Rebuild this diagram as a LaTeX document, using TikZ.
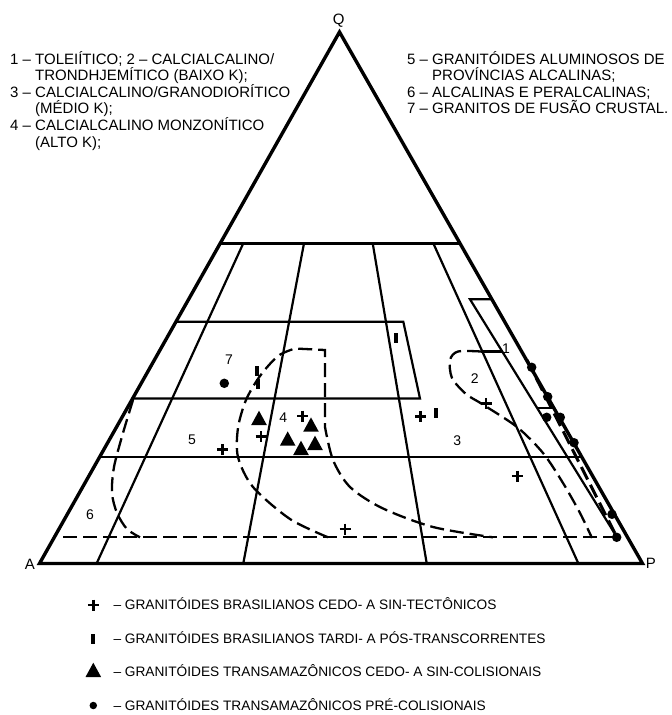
\documentclass[tikz,border=0pt]{standalone}
\usepackage{fontspec}
\setmainfont{Liberation Sans}
\usetikzlibrary{calc}

\begin{document}
\begin{tikzpicture}[x=1pt,y=-1pt,
  edge/.style={line width=3.4pt, line join=miter},
  field/.style={line width=2.2pt},
  limit/.style={line width=2.3pt, dash pattern=on 14pt off 6pt},
  keytext/.style={anchor=base west, inner sep=0, font=\fontsize{15}{18}\selectfont},
  legtext/.style={anchor=base west, inner sep=0, font=\fontsize{13.7}{16}\selectfont},
  num/.style={inner sep=0, font=\fontsize{14}{16}\selectfont},
  vlabel/.style={inner sep=0, font=\fontsize{15}{18}\selectfont},
  dotmark/.style={circle, fill, inner sep=0, minimum size=9.5pt},
  barmark/.style={rectangle, fill, inner sep=0, minimum width=4.2pt, minimum height=10pt},
  plusmark/.pic={\draw[line width=2.6pt] (-5.5,0) -- (5.5,0) (0,-5.5) -- (0,5.5);},
  trimark/.pic={\fill (0,-9.3) -- (7.8,5) -- (-7.8,5) -- cycle;}]
  \useasboundingbox (0,0) rectangle (672,715);

  \coordinate (A) at (39.5,563.5);
  \coordinate (P) at (642.5,563.5);
  \coordinate (Q) at (339.5,32);
  \node[vlabel, anchor=base east] (lA) at (35,569.4) {A};
  \node[vlabel, anchor=base west] (lP) at (645.7,568.2) {P};
  \node[vlabel, anchor=base] (lQ) at (338.7,24.4) {Q};

  \draw[field] ($(A)!0.602!(Q)$) -- ($(P)!0.602!(Q)$);
  \draw[field] ($(A)!0.2!(Q)$) -- ($(P)!0.2!(Q)$);
  \draw[field] (243.3,243.3) -- (96.7,563.3);
  \draw[field] (304,243.3) -- (243.3,563.3);
  \draw[field] (372.7,243.3) -- (426.7,563.3);
  \draw[field] (433.3,243.3) -- (578.3,563.3);
  \draw[field] ($(A)!0.455!(Q)$) -- (403.3,321.7) -- (420,398.5) -- ($(A)!0.3104!(Q)$);
  \draw[field] ($(P)!0.497!(Q)$) -- (470,299.3) -- (617,537.3);
  \draw[field] (537.4,408.3) -- (553,408.3);
  \draw[field] (481,351.5) -- (502,351.5);

  \draw[limit] (63,537.3) -- (617,537.3);
  \draw[limit, line width=3pt] (527,360) -- (617,537.3);
  \draw[limit] plot[smooth] coordinates {(133,400) (123,433) (114,467) (112,493) (117,513) (127,529) (140,537.3)};
  \draw[limit] plot[smooth] coordinates {(328,537.3) (290,519) (253,487) (238,457) (238,428) (246,400) (260,376) (278,356) (295,348.5)}
    -- (325,350) -- plot[smooth] coordinates {(325,427) (333,460) (350,487) (382,508) (433,527) (493,537.3)};
  \draw[limit] plot[smooth] coordinates {(481,351.5) (458,351.5) (450,360) (452,378) (466,394) (482,404) (517,427) (543,453) (563,483) (580,513) (592,538)};

  \draw[edge] (A) -- (P) -- (Q) -- cycle;

  \node[num] (n1) at (506,349) {1};
  \node[num] (n2) at (474.7,378.7) {2};
  \node[num] (n3) at (457.3,440.5) {3};
  \node[num] (n4) at (283.3,417.3) {4};
  \node[num] (n5) at (192,439.3) {5};
  \node[num] (n6) at (90,515) {6};
  \node[num] (n7) at (229,360) {7};

  \pic at (302.7,416) {plusmark};
  \pic at (261,436.7) {plusmark};
  \pic at (222.7,449.3) {plusmark};
  \pic at (420.7,416.7) {plusmark};
  \pic at (486,403.3) {plusmark};
  \pic at (517.3,476) {plusmark};
  \pic at (345,529) {plusmark};

  \node[barmark] (b1) at (256.7,371) {};
  \node[barmark] (b2) at (258,384) {};
  \node[barmark] (b3) at (436,413.3) {};
  \node[barmark] (b4) at (396,338.3) {};

  \pic at (259,420) {trimark};
  \pic at (311,426.7) {trimark};
  \pic at (287.7,440.7) {trimark};
  \pic at (315,445) {trimark};
  \pic at (301,450) {trimark};

  \node[dotmark] (d1) at (224.3,383.3) {};
  \node[dotmark] (d2) at (531.7,367.3) {};
  \node[dotmark] (d3) at (547.7,396.7) {};
  \node[dotmark] (d4) at (546.7,417.3) {};
  \node[dotmark] (d5) at (560.3,417.3) {};
  \node[dotmark] (d6) at (574,442.7) {};
  \node[dotmark] (d7) at (612,514.3) {};
  \node[dotmark] (d8) at (616.7,537.3) {};

  \node[keytext] (k1) at (10,64) {1 – TOLEIÍTICO; 2 – CALCIALCALINO/};
  \node[keytext] (k1b) at (10,80.6) {\phantom{1 – }TRONDHJEMÍTICO (BAIXO K);};
  \node[keytext] (k3) at (10,97.2) {3 – CALCIALCALINO/GRANODIORÍTICO};
  \node[keytext] (k3b) at (10,113.8) {\phantom{3 – }(MÉDIO K);};
  \node[keytext] (k4) at (10,130.4) {4 – CALCIALCALINO MONZONÍTICO};
  \node[keytext] (k4b) at (10,147) {\phantom{4 – }(ALTO K);};

  \node[keytext] (k5) at (407,64) {5 – GRANITÓIDES ALUMINOSOS DE};
  \node[keytext] (k5b) at (407,80.6) {\phantom{5 – }PROVÍNCIAS ALCALINAS;};
  \node[keytext] (k6) at (407,97.2) {6 – ALCALINAS E PERALCALINAS;};
  \node[keytext] (k7) at (407,113.8) {7 – GRANITOS DE FUSÃO CRUSTAL.};

  \pic at (93.3,605) {plusmark};
  \node[barmark] (lb) at (93.3,638.5) {};
  \pic at (93.3,672) {trimark};
  \node[dotmark, minimum size=7.5pt] (ld) at (93.3,705.5) {};
  \node[legtext] (t1) at (113.3,609.9) {– GRANITÓIDES BRASILIANOS CEDO- A SIN-TECTÔNICOS};
  \node[legtext] (t2) at (113.3,643.4) {– GRANITÓIDES BRASILIANOS TARDI- A PÓS-TRANSCORRENTES};
  \node[legtext] (t3) at (113.3,676.9) {– GRANITÓIDES TRANSAMAZÔNICOS CEDO- A SIN-COLISIONAIS};
  \node[legtext] (t4) at (113.3,710.4) {– GRANITÓIDES TRANSAMAZÔNICOS PRÉ-COLISIONAIS};
\end{tikzpicture}
\end{document}
